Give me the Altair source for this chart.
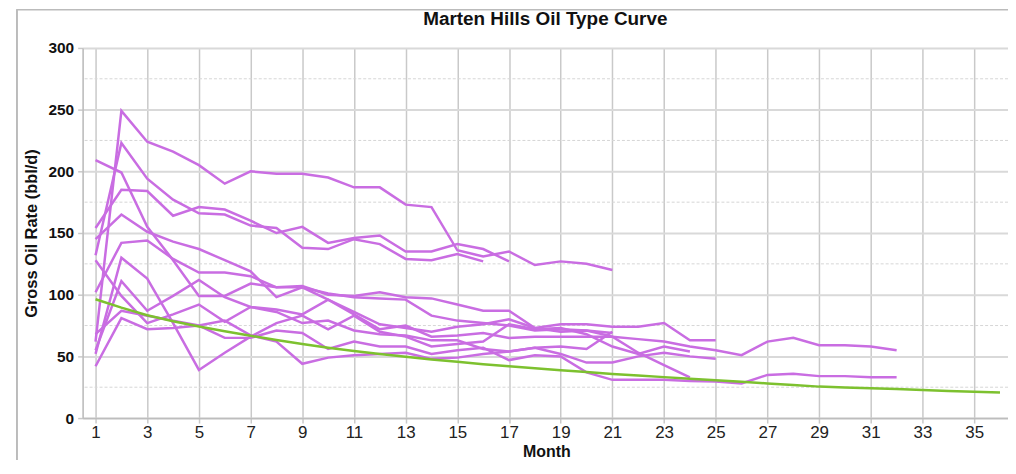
import altair as alt
import pandas as pd

TITLE = "Marten Hills Oil Type Curve"
X_TITLE = "Month"
Y_TITLE = "Gross Oil Rate (bbl/d)"

x_ticks = list(range(1, 36, 2))
y_major = [0, 50, 100, 150, 200, 250, 300]
y_minor = [25, 75, 125, 175, 225, 275]

well_01 = [62, 249, 224, 216, 205, 190, 200, 198, 198, 195, 187, 187, 173, 171, 136, 131, 135, 124, 127, 125, 120]
well_02 = [132, 223, 194, 177, 166, 165, 156, 154, 138, 137, 145, 141, 129, 128, 133, 127]
well_03 = [154, 185, 184, 164, 171, 169, 160, 150, 155, 142, 146, 148, 135, 135, 141, 137, 127]
well_04 = [209, 199, 155, 128, 99, 99, 109, 106, 107, 100, 99, 102, 98, 97, 92, 87, 87, 73, 76, 76, 74, 74, 77, 63, 63]
well_05 = [145, 165, 151, 143, 137, 128, 119, 98, 106, 101, 98, 97, 96, 83, 79, 77, 75, 71, 72, 71, 69]
well_06 = [102, 142, 144, 129, 118, 118, 115, 106, 106, 96, 84, 72, 75, 66, 67, 69, 65, 66, 66, 66, 66, 64, 62, 58, 55, 51, 62, 65, 59, 59, 58, 55]
well_07 = [52, 130, 113, 77, 39, 53, 66, 77, 83, 72, 83, 70, 66, 58, 60, 62, 76, 72, 73, 68, 58, 52, 58, 54]
well_08 = [42, 81, 72, 73, 75, 65, 65, 71, 69, 56, 62, 58, 58, 52, 55, 57, 47, 51, 50, 37, 31, 31, 31, 30, 29.6, 28, 35, 36, 34, 34, 33, 33]
well_09 = [55, 111, 87, 99, 112, 98, 90, 88, 84, 96, 86, 76, 73, 70, 74, 76, 80, 73, 70, 71, 66, 53, 43, 33]
well_10 = [128, 99, 77, 84, 92, 78, 90, 86, 77, 79, 71, 68, 67, 63, 63, 56, 54, 57, 52, 45, 45, 50, 53, 50, 48]
well_11 = [68, 87, 83, 79, 75, 79, 67, 62, 44, 49, 51, 52, 53, 48, 49, 52, 54, 57, 58, 56, 70]

type_curve = [96.3, 89.5, 83.4, 78.5, 74.3, 70.3, 66.7, 63.3, 60.0, 57.0, 54.3, 52.0,
              49.7, 47.5, 45.6, 43.7, 42.0, 40.3, 38.8, 37.3, 35.8, 34.5, 33.2, 31.9,
              30.6, 29.4, 28.1, 26.8, 25.5, 24.8, 24.2, 23.5, 22.8, 22.0, 21.3, 20.7]

wells = {
    "W01": well_01, "W02": well_02, "W03": well_03, "W04": well_04,
    "W05": well_05, "W06": well_06, "W07": well_07, "W08": well_08,
    "W09": well_09, "W10": well_10, "W11": well_11,
}

rows = []
for name, vals in wells.items():
    for i, v in enumerate(vals):
        rows.append({"well": name, "month": i + 1, "rate": v})
df_wells = pd.DataFrame(rows)
df_tc = pd.DataFrame({"month": list(range(1, len(type_curve) + 1)), "rate": type_curve})
df_minor = pd.DataFrame({"v": y_minor})

W = 930
H = 372
FONT = "Liberation Sans"

x_scale = alt.Scale(domain=[0.5, 36.31], nice=False, zero=False)
y_scale = alt.Scale(domain=[0, 300], nice=False)

x_axis = alt.Axis(
    values=x_ticks, title=X_TITLE, grid=True, gridColor="#C9C9C9", gridWidth=1.5,
    domainColor="#BDBDBD", domainWidth=1.5, tickColor="#C9C9C9", tickWidth=1.5, tickSize=5,
    labelFont=FONT, labelFontSize=17, labelColor="#222222", labelPadding=2,
    titleFont=FONT, titleFontSize=16, titleFontWeight="bold", titleColor="#111111",
    titleX=466, titleY=39, titleBaseline="alphabetic", titleAlign="center",
)
y_axis = alt.Axis(
    values=y_major, title=Y_TITLE, grid=True, gridColor="#D9D9D9", gridWidth=2,
    domainColor="#BDBDBD", domainWidth=1.5, tickColor="#C9C9C9", tickWidth=1.5, tickSize=5,
    labelFont=FONT, labelFontSize=15.5, labelFontWeight="bold", labelColor="#111111", labelPadding=4,
    titleFont=FONT, titleFontSize=16.5, titleFontWeight="bold", titleColor="#111111",
    titleAngle=270, titleX=-46, titleY=186, titleBaseline="alphabetic", titleAlign="center",
)

base = alt.Chart(df_wells)

minor = alt.Chart(df_minor).mark_rule(color="#D6D6D6", strokeWidth=1, strokeDash=[3, 2]).encode(
    y=alt.Y("v:Q", scale=y_scale, axis=y_axis)
)

lines = base.mark_line(color="#C96DE2", strokeWidth=2.5).encode(
    x=alt.X("month:Q", scale=x_scale, axis=x_axis),
    y=alt.Y("rate:Q", scale=y_scale, axis=y_axis),
    detail="well:N",
)

tc_line = alt.Chart(df_tc).mark_line(color="#7DC12F", strokeWidth=2.5).encode(
    x=alt.X("month:Q", scale=x_scale, axis=x_axis),
    y=alt.Y("rate:Q", scale=y_scale, axis=y_axis),
)

frame_v = alt.Chart(df_minor).mark_rule(color="#BBBBBB", strokeWidth=1).encode(
    x=alt.value(-66), y=alt.value(-38.5), y2=alt.value(H + 45)
)
frame_h = alt.Chart(df_minor).mark_rule(color="#BBBBBB", strokeWidth=1).encode(
    x=alt.value(-66), x2=alt.value(W), y=alt.value(-38.5)
)

chart = alt.layer(minor, lines, tc_line, frame_v, frame_h).properties(
    width=W, height=H,
    title=alt.TitleParams(TITLE, font=FONT, fontSize=19, fontWeight="bold", color="#111111",
                          anchor="middle", frame="group", offset=-20),
    autosize=alt.AutoSizeParams(type="none"),
    padding={"left": 75, "top": 39, "right": 0, "bottom": 41},
).configure_view(stroke=None).configure(background="white")

chart.save("out.html", embed_options={"renderer": "svg", "actions": False})
